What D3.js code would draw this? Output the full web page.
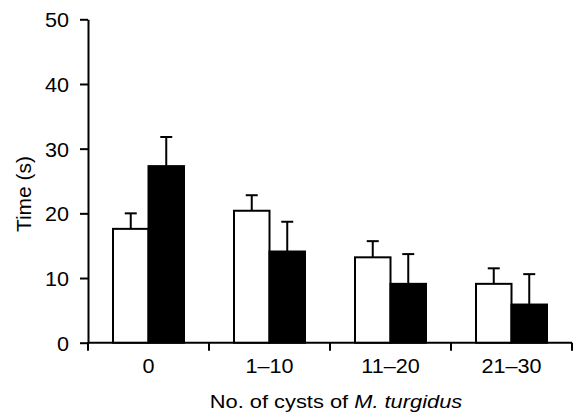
<!DOCTYPE html>
<html>
<head>
<meta charset="utf-8">
<script src="https://cdn.jsdelivr.net/npm/d3@7"></script>
<style>
  body { margin: 0; background: #fff; }
  text { font-family: "Liberation Sans", Arial, Helvetica, sans-serif; fill: #000; }
</style>
</head>
<body>
<script>
// data
var groups = ["0", "1\u201310", "11\u201320", "21\u201330"];
var openMean = [17.6, 20.4, 13.2, 9.1];
var openErr = [20.0, 22.8, 15.7, 11.5];
var filledMean = [27.3, 14.1, 9.1, 5.9];
var filledErr = [31.8, 18.7, 13.7, 10.6];
var yTicks = [0, 10, 20, 30, 40, 50];

var width = 573, height = 412;
var svg = d3.select("body").append("svg")
  .attr("width", width)
  .attr("height", height);

var x = d3.scaleBand().domain(groups).range([88, 572]).padding(0);
var y = d3.scaleLinear().domain([0, 50]).range([342.7, 19.3]);

var barW = 35.5;
var sx = 1.08; // text looks a bit wide in the picture

// y axis
var yAxis = svg.append("g")
  .attr("transform", "translate(88,0)")
  .call(d3.axisLeft(y).tickValues(yTicks).tickSize(8).tickSizeOuter(0));
yAxis.select(".domain").attr("stroke", "#000").attr("stroke-width", 2);
yAxis.selectAll(".tick line").attr("stroke", "#000").attr("stroke-width", 2);
yAxis.selectAll(".tick text")
  .attr("x", null).attr("dy", "0.38em")
  .attr("fill", "#000")
  .attr("transform", "translate(-19,0) scale(" + sx + ",1)")
  .style("font-size", "20px")
  .style("font-family", "'Liberation Sans', Arial, sans-serif");

// x axis line
svg.append("line")
  .attr("x1", 88).attr("x2", 572)
  .attr("y1", y(0)).attr("y2", y(0))
  .attr("stroke", "#000").attr("stroke-width", 2);

// ticks at group boundaries
var edges = groups.map(function (g) { return x(g); }).concat([x(groups[groups.length - 1]) + x.bandwidth()]);
svg.selectAll(".xtick").data(edges).enter().append("line")
  .attr("class", "xtick")
  .attr("x1", function (d) { return d; }).attr("x2", function (d) { return d; })
  .attr("y1", y(0)).attr("y2", y(0) + 8)
  .attr("stroke", "#000").attr("stroke-width", 2);

// group labels
svg.selectAll(".xlab").data(groups).enter().append("text")
  .attr("class", "xlab")
  .attr("text-anchor", "middle")
  .attr("fill", "#000")
  .attr("transform", function (d) {
    return "translate(" + (x(d) + x.bandwidth() / 2) + ",373) scale(" + sx + ",1)";
  })
  .style("font-size", "20px")
  .text(function (d) { return d; });

// bars
var rows = groups.map(function (g, i) {
  return [
    { g: g, side: 0, v: openMean[i], e: openErr[i] },
    { g: g, side: 1, v: filledMean[i], e: filledErr[i] }
  ];
});
var flat = d3.merge(rows);

var bx = function (d) {
  var c = x(d.g) + x.bandwidth() / 2;
  return d.side === 0 ? c - barW : c;
};

// error bars first so bars sit on top of the stem base
svg.selectAll(".err").data(flat).enter().append("line")
  .attr("class", "err")
  .attr("x1", function (d) { return bx(d) + barW / 2; })
  .attr("x2", function (d) { return bx(d) + barW / 2; })
  .attr("y1", function (d) { return y(d.v); })
  .attr("y2", function (d) { return y(d.e); })
  .attr("stroke", "#000").attr("stroke-width", 2);

svg.selectAll(".cap").data(flat).enter().append("line")
  .attr("class", "cap")
  .attr("x1", function (d) { return bx(d) + barW / 2 - 6; })
  .attr("x2", function (d) { return bx(d) + barW / 2 + 6; })
  .attr("y1", function (d) { return y(d.e); })
  .attr("y2", function (d) { return y(d.e); })
  .attr("stroke", "#000").attr("stroke-width", 2);

svg.selectAll(".bar").data(flat).enter().append("rect")
  .attr("class", "bar")
  .attr("x", bx)
  .attr("y", function (d) { return y(d.v); })
  .attr("width", barW)
  .attr("height", function (d) { return y(0) - y(d.v); })
  .attr("fill", function (d) { return d.side === 0 ? "#fff" : "#000"; })
  .attr("stroke", "#000").attr("stroke-width", 2);

// axis titles
svg.append("text")
  .attr("text-anchor", "middle")
  .attr("fill", "#000")
  .attr("transform", "translate(31,194) rotate(-90)")
  .style("font-size", "21px")
  .text("Time (s)");

var xt = svg.append("text")
  .attr("text-anchor", "middle")
  .attr("fill", "#000")
  .attr("transform", "translate(336,408) scale(1.15,1)")
  .style("font-size", "19px");
xt.append("tspan").text("No. of cysts of ");
xt.append("tspan").style("font-style", "italic").text("M. turgidus");
</script>
</body>
</html>
